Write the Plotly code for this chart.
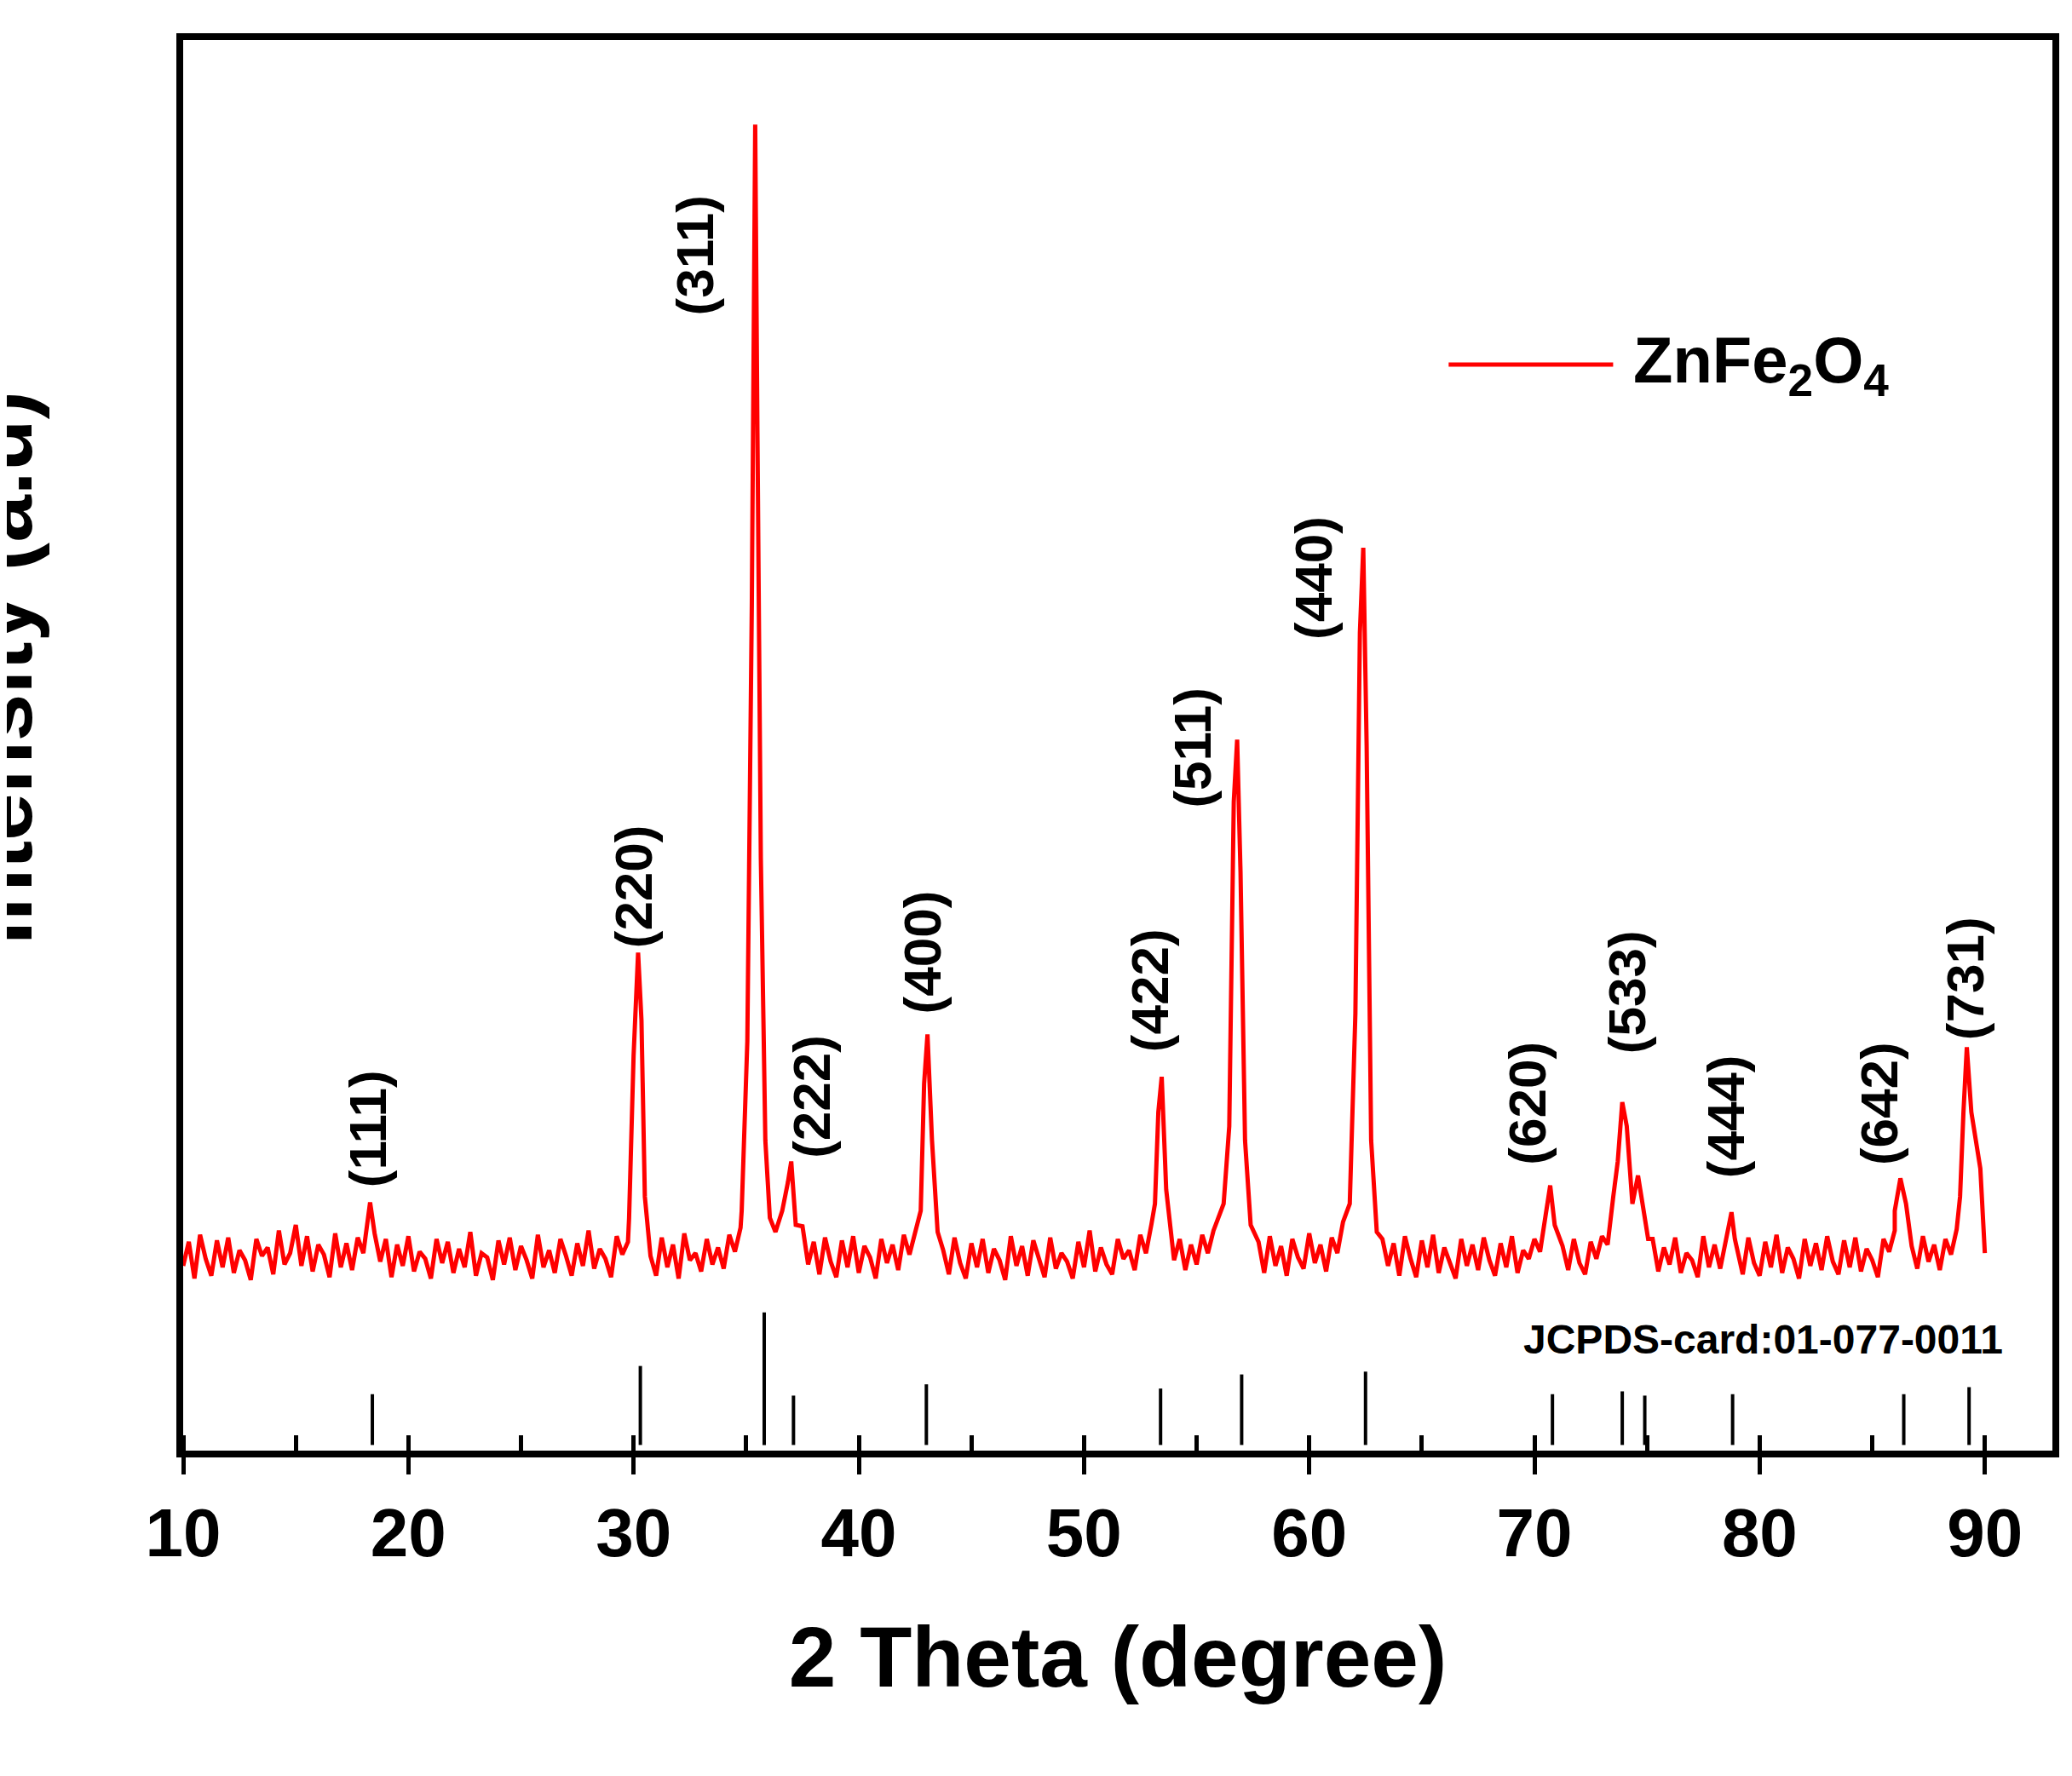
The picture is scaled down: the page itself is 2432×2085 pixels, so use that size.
import plotly.graph_objects as go

# ---- data ----
seg_starts = [10.0, 18.75, 30.75, 37.5, 43.75, 54.0, 57.75, 63.25, 71.25, 75.25, 79.0, 86.75]
seg_step = 0.25
seg_y = [
 [13.1,14.8,12.2,15.3,13.6,12.4,14.9,13.0,15.1,12.6,14.2,13.5,12.1,15.0,13.8,14.4,12.5,15.6,13.2,14.0,16.0,13.1,15.2,12.7,14.6,13.9,12.3,15.4,13.0,14.7,12.8,15.1,14.0],
 [13.4,15.0,12.3,14.6,13.1,15.2,12.7,14.1,13.6,12.2,15.0,13.3,14.8,12.6,14.3,13.0,15.5,12.4,14.0,13.7,12.1,14.9,13.2,15.1,12.8,14.5,13.5,12.2,15.3,13.0,14.2,12.6,15.0,13.8,12.4,14.7,13.1,15.6,12.9,14.3,13.6,12.3,15.2,13.9,14.8],
 [13.8,12.4,15.1,13.0,14.6,12.2,15.4,13.5,14.0,12.7,15.0,13.2,14.4,12.9,15.3,14.1,15.8],
 [15.9,13.2,14.8,12.5,15.1,13.4,12.3,14.9,13.0,15.2,12.6,14.5,13.7,12.2,15.0,13.3,14.6,12.8,15.3,13.9,15.5],
 [14.2,12.5,15.1,13.3,12.2,14.7,13.0,15.0,12.6,14.3,13.5,12.1,15.2,13.1,14.5,12.4,14.9,13.7,12.3,15.1,12.9,14.0,13.4,12.2,14.8,13.0,15.6,12.7,14.4,13.2,12.5,15.0,13.6,14.2,12.8,15.3,14.0,16.1],
 [13.5,15.0,12.8,14.6,13.2,15.3,14.0,15.6],
 [14.8,12.6,15.2,13.1,14.5,12.4,15.0,13.7,12.9,15.4,13.3,14.6,12.7,15.1,14.0,16.2],
 [15.0,13.1,14.7,12.4,15.2,13.6,12.3,14.9,13.0,15.3,12.6,14.4,13.4,12.2,15.0,13.1,14.6,12.8,15.1,13.5,12.4,14.7,13.0,15.2,12.6,14.2,13.6,15.0,14.1],
 [14.5,12.8,15.0,13.3,12.5,14.8,13.6,15.2,14.6],
 [15.0,12.7,14.4,13.2,15.1,12.6,14.0,13.5,12.3,15.2,13.0,14.6,12.9,15.0],
 [14.2,12.5,15.1,13.3,12.4,14.8,13.0,15.3,12.6,14.4,13.6,12.2,15.0,13.1,14.7,12.8,15.2,13.4,12.5,14.9,13.0,15.1,12.7,14.3,13.5,12.3,15.0,14.1,15.6],
 [14.5,12.9,15.2,13.4,14.6,12.8,15.0,13.9,15.7],
]
peak_x = [
 [18.1,18.3,18.5],
 [29.8,30.0,30.2,30.35,30.5],
 [34.8,35.05,35.25,35.4,35.5,35.65,35.85,36.05,36.3,36.6,36.85,37.0,37.2],
 [42.75,42.9,43.05,43.25,43.5],
 [53.15,53.3,53.45,53.65],
 [56.2,56.45,56.65,56.8,56.95,57.15,57.4],
 [61.8,62.05,62.25,62.4,62.55,62.75,63.0],
 [70.5,70.7,70.9],
 [73.5,73.7,73.9,74.1,74.35,74.6,74.85,75.05],
 [78.55,78.75,78.9],
 [86.0,86.25,86.5],
 [88.9,89.05,89.2,89.4,89.6,89.8,90.0],
]
peak_y = [
 [15.2,17.6,15.4],
 [16.5,28.0,35.3,30.5,18.0],
 [17.0,29.0,60.0,94.0,72.0,42.0,22.0,16.5,15.5,17.0,19.0,20.5,16.0],
 [17.0,26.0,29.5,22.0,15.5],
 [17.5,24.0,26.5,18.5],
 [17.5,23.0,46.0,50.4,41.0,22.0,16.0],
 [17.5,31.0,58.0,64.0,50.0,22.0,15.5],
 [17.0,18.8,16.0],
 [18.0,20.5,24.7,23.0,17.5,19.5,17.0,15.0],
 [15.5,16.9,15.0],
 [17.0,19.3,17.5],
 [18.0,24.0,28.6,24.0,22.0,20.0,14.0],
]

ref_pos = [18.4,30.3,35.8,37.1,43.0,53.4,57.0,62.5,70.8,73.9,74.9,78.8,86.4,89.3]
ref_height = [4.0,6.0,9.8,3.9,4.7,4.4,5.4,5.6,4.0,4.2,3.9,4.0,4.0,4.5]

hkl_labels = ["(111)","(220)","(311)","(222)","(400)","(422)","(511)","(440)","(620)","(533)","(444)","(642)","(731)"]
hkl_x = [18.2,30.0,32.7,37.9,42.8,52.9,54.8,60.2,69.7,74.1,78.5,85.3,89.1]
hkl_y = [22.8,40.0,84.7,25.1,35.3,32.6,49.8,61.9,24.6,32.5,23.7,24.6,33.5]

tick_vals = [10,20,30,40,50,60,70,80,90]
series_name = "<b>ZnFe<sub>2</sub>O<sub>4</sub></b>"

# ---- build trace ----
xs, ys = [], []
for i, st in enumerate(seg_starts):
    for j, v in enumerate(seg_y[i]):
        xs.append(st + seg_step*j); ys.append(v)
    xs += peak_x[i]; ys += peak_y[i]
pairs = sorted(zip(xs, ys))
xs = [p[0] for p in pairs]; ys = [p[1] for p in pairs]

FONT = "Liberation Sans"
fig = go.Figure()
fig.add_trace(go.Scatter(x=xs, y=ys, mode="lines", line=dict(color="#ff0000", width=5),
                         name=series_name, showlegend=False))
sx, sy = [], []
for p, h in zip(ref_pos, ref_height):
    sx += [p, p, None]; sy += [0.4, h, None]
fig.add_trace(go.Scatter(x=sx, y=sy, mode="lines", line=dict(color="black", width=4), showlegend=False))

for t, x, y in zip(hkl_labels, hkl_x, hkl_y):
    fig.add_annotation(x=x, y=y, text=f"<b>{t}</b>", showarrow=False, textangle=-90,
                       font=dict(family=FONT, size=62, color="black"))
fig.add_annotation(x=90.9, y=7.9, text="<b>JCPDS-card:01-077-0011</b>", showarrow=False,
                   xanchor="right", font=dict(family=FONT, size=48, color="black"))

# legend (drawn manually for a long sample line)
fig.add_shape(type="line", xref="paper", yref="paper", x0=0.677, x1=0.765, y0=0.77, y1=0.77,
              line=dict(color="#ff0000", width=5))
fig.add_annotation(xref="paper", yref="paper", x=0.775, y=0.77, text=series_name, showarrow=False,
                   xanchor="left", yanchor="middle", font=dict(family=FONT, size=76, color="black"))
# y title
fig.add_annotation(xref="paper", yref="paper", x=-0.097, y=0.555, text="<b>Intensity (a.u)</b>",
                   showarrow=False, textangle=-90, xanchor="center", yanchor="middle",
                   font=dict(family=FONT, size=100, color="black"))

fig.update_layout(
    width=2432, height=2085, plot_bgcolor="white", paper_bgcolor="white",
    margin=dict(l=207, r=31, t=39, b=390),
    font=dict(family=FONT, color="black"),
    showlegend=False,
)
fig.update_xaxes(range=[10, 93], tickvals=tick_vals, ticktext=[f"<b>{v}</b>" for v in tick_vals],
                 ticks="outside", ticklen=20, tickwidth=5, tickcolor="black",
                 minor=dict(dtick=5, tick0=5, ticks="inside", ticklen=18, tickwidth=5, tickcolor="black"),
                 showline=True, linewidth=8, linecolor="black", mirror=True, showgrid=False, zeroline=False,
                 tickfont=dict(family=FONT, size=80, color="black"),
                 title=dict(text="<b>2 Theta (degree)</b>", font=dict(family=FONT, size=100, color="black"), standoff=70))
fig.update_yaxes(range=[0, 100], showticklabels=False, ticks="", showgrid=False, zeroline=False,
                 showline=True, linewidth=8, linecolor="black", mirror=True)
fig.write_html("out.html")
